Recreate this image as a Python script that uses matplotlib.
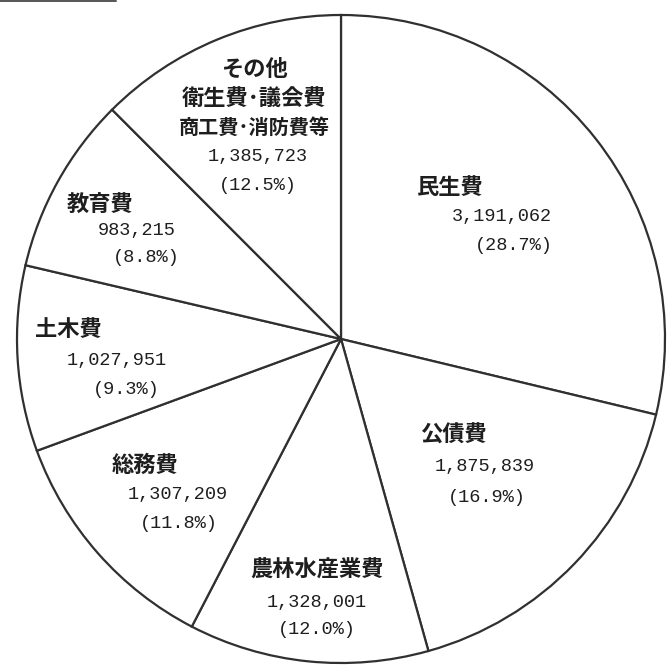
import matplotlib
matplotlib.use("Agg")
import matplotlib.pyplot as plt

# ---- data (clockwise from 12 o'clock) ----
categories = ["民生費", "公債費", "農林水産業費", "総務費", "土木費", "教育費",
              "その他\n衛生費･議会費\n商工費･消防費等"]
values = [3191062, 1875839, 1328001, 1307209, 1027951, 983215, 1385723]
percent_labels = ["28.7", "16.9", "12.0", "11.8", "9.3", "8.8", "12.5"]

# ---- layout (pixel coordinates, origin top-left) ----
W = 667
center_px = (341, 339)
radius_px = 324
# per label: (x of name, y of name, x of number, y of number, x of pct, y of pct)
label_pos = [
    (417, 187, 452, 217, 475, 245),
    (420, 435, 435, 467, 448, 497),
    (250, 570, 267, 602, 278, 630),
    (112, 465, 128, 495, 140, 523),
    (35, 330, 67, 360, 93, 390),
    (67, 205, 98, 230, 113, 257),
]
other_center_x = 254
other_name_y = [69, 98, 127]
other_name_fs = [16, 16, 14.5]
other_num_y = 157
other_pct_y = 186

EDGE = "#303030"
TXT = "#1e1e1e"
CJK = ["Noto Sans CJK JP", "DejaVu Sans"]
NUM = ["Liberation Mono", "DejaVu Sans Mono"]

fig = plt.figure(figsize=(W / 100, W / 100), dpi=100)
ax = fig.add_axes([0, 0, 1, 1])

def Y(py):
    return W - py

ax.pie(values, startangle=90, counterclock=False,
       center=(center_px[0], Y(center_px[1])), radius=radius_px,
       colors=["white"] * len(values),
       wedgeprops=dict(edgecolor=EDGE, linewidth=1.6, joinstyle="miter"),
       frame=False)
ax.set_xlim(0, W)
ax.set_ylim(0, W)
ax.set_aspect("equal")
ax.axis("off")

NAME_FS = 16
NUM_FS = 13.4

for i in range(6):
    nx, ny, vx, vy, px, py = label_pos[i]
    ax.text(nx, Y(ny), categories[i], family=CJK, fontsize=NAME_FS,
            color=TXT, ha="left", va="center", fontweight="bold")
    ax.text(vx, Y(vy), f"{values[i]:,}", family=NUM, fontsize=NUM_FS,
            color=TXT, ha="left", va="center")
    ax.text(px, Y(py), f"({percent_labels[i]}%)", family=NUM, fontsize=NUM_FS,
            color=TXT, ha="left", va="center")

other_lines = categories[6].split("\n")
for line, yy, fs in zip(other_lines, other_name_y, other_name_fs):
    ax.text(other_center_x, Y(yy), line, family=CJK, fontsize=fs,
            color=TXT, ha="center", va="center", fontweight="bold")
ax.text(other_center_x + 4, Y(other_num_y), f"{values[6]:,}", family=NUM,
        fontsize=NUM_FS, color=TXT, ha="center", va="center")
ax.text(other_center_x + 4, Y(other_pct_y), f"({percent_labels[6]}%)", family=NUM,
        fontsize=NUM_FS, color=TXT, ha="center", va="center")

# fragment of a caption box at the top-left corner
ax.plot([0, 116], [Y(1), Y(1)], color="#555555", lw=1.4, solid_capstyle="round")

fig.savefig("out.png", dpi=100, facecolor="white")
